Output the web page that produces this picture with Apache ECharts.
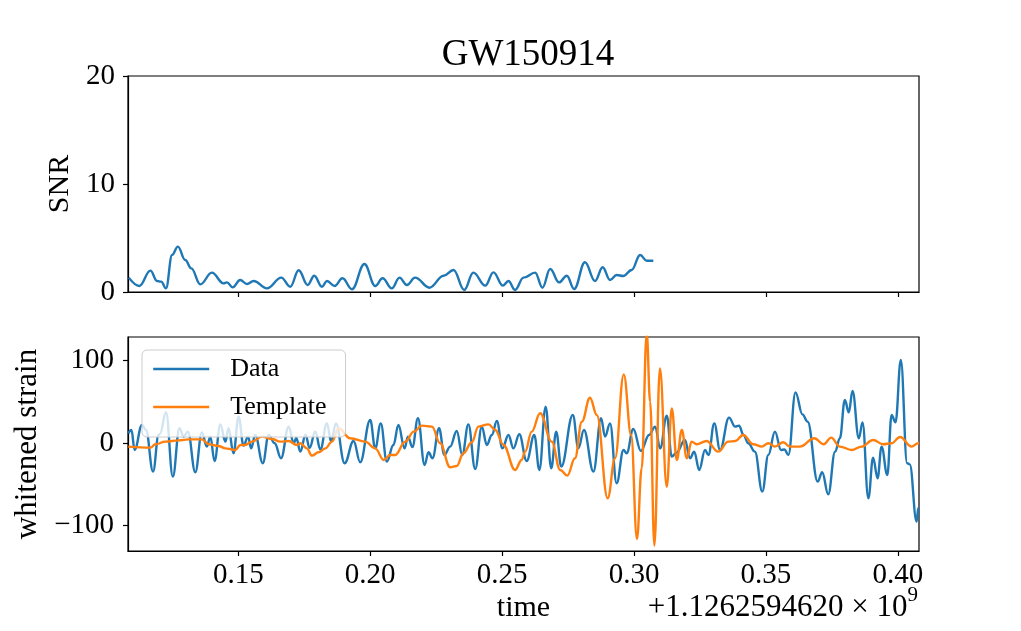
<!DOCTYPE html>
<html>
<head>
<meta charset="utf-8">
<script src="https://cdn.jsdelivr.net/npm/echarts@6/dist/echarts.min.js"></script>
<style>
html,body{margin:0;padding:0;background:#fff;}
#chart{width:1021px;height:631px;}
</style>
</head>
<body>
<div id="chart"></div>
<script>
// time offsets (s) relative to 1.1262594620e9
const snrTime = [0.1085,0.1125,0.1167,0.1192,0.1208,0.1226,0.1249,0.1271,0.1299,0.1322,0.1356,0.1400,0.1444,0.1457,0.1479,0.1507,0.1533,0.1558,0.1609,0.1663,0.1697,0.1729,0.1763,0.1788,0.1817,0.1836,0.1865,0.1895,0.1931,0.1978,0.2019,0.2047,0.2082,0.2111,0.2139,0.2170,0.2225,0.2278,0.2316,0.2356,0.2391,0.2436,0.2467,0.2503,0.2524,0.2549,0.2581,0.2625,0.2653,0.2682,0.2716,0.2745,0.2773,0.2814,0.2852,0.2881,0.2909,0.2934,0.2959,0.2991,0.3023,0.3048,0.3073];
const snrValues = [1.33,0.56,1.98,1.02,0.96,0.34,3.43,4.20,2.96,2.19,0.71,1.79,0.80,0.89,0.43,1.11,0.74,1.02,0.34,1.33,0.49,2.01,0.65,1.51,0.49,1.02,0.56,1.27,0.25,2.59,0.56,1.27,0.34,1.33,0.65,1.33,0.40,1.51,2.04,0.19,1.79,0.59,1.82,0.59,1.02,0.19,1.33,1.79,0.40,2.13,0.89,1.51,0.28,2.75,1.02,2.29,1.11,1.57,1.48,2.04,3.43,2.90,2.90];

const dataTime = [0.1083,0.1095,0.1107,0.1135,0.1150,0.1177,0.1198,0.1203,0.1226,0.1252,0.1277,0.1293,0.1309,0.1337,0.1362,0.1381,0.1394,0.1410,0.1432,0.1451,0.1463,0.1482,0.1501,0.1520,0.1537,0.1549,0.1564,0.1593,0.1615,0.1638,0.1662,0.1691,0.1710,0.1720,0.1735,0.1755,0.1770,0.1792,0.1811,0.1836,0.1852,0.1870,0.1903,0.1937,0.1962,0.2000,0.2019,0.2040,0.2063,0.2088,0.2107,0.2130,0.2143,0.2160,0.2181,0.2206,0.2221,0.2236,0.2261,0.2281,0.2303,0.2328,0.2349,0.2372,0.2398,0.2423,0.2442,0.2461,0.2480,0.2501,0.2524,0.2543,0.2565,0.2593,0.2622,0.2641,0.2665,0.2686,0.2705,0.2724,0.2768,0.2789,0.2810,0.2846,0.2875,0.2890,0.2909,0.2934,0.2960,0.2972,0.2997,0.3026,0.3057,0.3080,0.3099,0.3124,0.3143,0.3160,0.3193,0.3212,0.3228,0.3247,0.3269,0.3282,0.3304,0.3326,0.3360,0.3383,0.3398,0.3415,0.3433,0.3458,0.3486,0.3509,0.3534,0.3557,0.3570,0.3585,0.3612,0.3638,0.3658,0.3696,0.3713,0.3736,0.3762,0.3780,0.3799,0.3814,0.3828,0.3852,0.3866,0.3888,0.3906,0.3923,0.3938,0.3960,0.3976,0.3991,0.4011,0.4035,0.4045,0.4071,0.4077,0.4080];
const dataValues = [11.7,15.8,-8.5,21.8,15.8,-34.7,9.7,11,37.2,-40.8,17.8,7.7,13.7,-35.5,12.9,-4.4,7.7,-21.8,22.6,1.6,17.8,-12.5,31.9,-3.2,7.7,-6.5,9.7,-24.6,9.7,-0.4,-18.6,19.8,-0.4,6,-10.5,10,-6,14,-8,23.8,1.6,23.8,-24.6,2.4,-23.4,27.9,-6.5,23.8,-22.6,-2.4,21.8,-6.5,7.7,-5,29.9,-26.7,-11.3,-18.6,17.8,-14.5,-4.4,14.5,-14.5,22.6,-31.5,19.8,-2.4,9.7,26.7,-6.5,9.7,-6.5,10.5,-21.8,9.7,-32.7,44.0,-30.7,13.7,-28.7,33.9,-6.5,15.8,-34.7,29.9,7.7,23.8,-48.9,-8.5,-12.5,17.0,-9.7,9.7,19.8,-6.5,33.1,-16.6,-12,3.6,-18.6,-10.5,-32.7,-8.5,-14.5,23.8,-8.5,30.7,19.8,21,9.7,-0.4,-10.5,-59.0,-14.5,13.7,-8.5,-8,-14.5,61.4,34.7,25.8,-46.9,-35.5,-62.2,-10.5,5.7,52.1,37.2,63.0,5.7,25.0,-67.1,-17.8,-42.8,-4.4,-38.8,33.9,25.0,100.6,-24.6,-26,-95.4,-79.2,-79];

const templateTime = [0.1083,0.1167,0.1186,0.1223,0.1274,0.1312,0.1362,0.1388,0.1425,0.1451,0.1489,0.1508,0.1526,0.1552,0.1590,0.1628,0.1659,0.1691,0.1722,0.1735,0.1760,0.1779,0.1804,0.1830,0.1855,0.1880,0.1924,0.1981,0.2019,0.2051,0.2076,0.2095,0.2133,0.2165,0.2196,0.2234,0.2265,0.2303,0.2328,0.2353,0.2385,0.2410,0.2448,0.2474,0.2505,0.2549,0.2574,0.2587,0.2612,0.2644,0.2688,0.2720,0.2747,0.2776,0.2802,0.2833,0.2859,0.2900,0.2928,0.2961,0.2989,0.3011,0.3029,0.3048,0.3061,0.3077,0.3098,0.3124,0.3143,0.3162,0.3181,0.3200,0.3218,0.3237,0.3275,0.3319,0.3357,0.3383,0.3414,0.3452,0.3484,0.3509,0.3534,0.3566,0.3591,0.3629,0.3683,0.3719,0.3747,0.3780,0.3825,0.3862,0.3906,0.3944,0.3976,0.4008,0.4052,0.4077,0.4080];
const templateValues = [-4.4,-5.6,-1.6,1.6,3.2,4.4,4.4,-1.6,-3.6,-6.5,-8.5,-2.4,-2.4,1.6,7.7,4.8,1.6,2.4,-2.4,-0.4,-6.5,-15.4,-11.3,-6.5,1.6,17.8,5.7,1.6,-6.5,-20.6,-14.5,-14.5,1.6,13.7,21.0,19.8,-0.4,-29.5,-27.9,-12.5,0.8,19.8,22.6,15.8,-2.4,-32.7,-20.6,-10.5,13.7,36.0,1.6,-32.7,-39.6,-18.6,25.8,54.9,33.9,-67.1,-18.6,83.2,9.7,-116.4,-30.7,133,50,-124.4,90.5,-53.0,42.0,-20.6,15.8,-18.6,1.6,-1.6,2.4,-10.5,1.6,2.4,9.7,-1.6,-4.4,-0.4,-4.4,0.8,-4.4,-4.4,5.7,-1.6,6.5,-4.4,-8.5,-4.4,3.6,-1.6,-0.4,7.3,-4.4,-0.4,-0.4];

const xTicks = [0.15,0.20,0.25,0.30,0.35,0.40];
const snrTicks = [0,10,20];
const strainTicks = [-100,0,100];

const FONT = '"Liberation Serif", "DejaVu Serif", serif';
const zip = (a,b) => a.map((t,i)=>[t,b[i]]);

const chart = echarts.init(document.getElementById('chart'), null, {renderer:'canvas'});
const axisCommon = {
  type:'value',
  axisLine:{show:true, onZero:false, lineStyle:{color:'#000', width:1.2}},
  splitLine:{show:false},
};
chart.setOption({
  animation:false,
  backgroundColor:'#fff',
  title:{text:'GW150914', left:523, top:32, textAlign:'center',
    textStyle:{fontFamily:FONT, fontSize:37, fontWeight:'normal', color:'#000'}},
  grid:[
    {left:128, top:76, width:791, height:216, show:true, borderColor:'#000', borderWidth:1.2, containLabel:false},
    {left:128, top:337, width:791, height:214, show:true, borderColor:'#000', borderWidth:1.2, containLabel:false}
  ],
  legend:{
    data:['Data','Template'], orient:'vertical', left:142, top:350,
    itemWidth:56, itemHeight:14, itemGap:8,
    padding:[4,19,15,10],
    itemStyle:{opacity:0},
    lineStyle:{width:2.4},
    backgroundColor:'rgba(255,255,255,0.8)', borderColor:'#cccccc', borderWidth:1, borderRadius:5,
    textStyle:{fontFamily:FONT, fontSize:26, color:'#000', lineHeight:30, padding:[0,0,0,16]}
  },
  xAxis:[
    Object.assign({}, axisCommon, {gridIndex:0, min:0.1082, max:0.408,
      axisTick:{show:true, inside:false, length:5, customValues:xTicks, lineStyle:{color:'#000', width:1.2}},
      axisLabel:{show:false, customValues:xTicks}}),
    Object.assign({}, axisCommon, {gridIndex:1, min:0.1082, max:0.408,
      name:'time', nameLocation:'middle', nameGap:42,
      nameTextStyle:{fontFamily:FONT, fontSize:30, color:'#000'},
      axisTick:{show:true, inside:false, length:5, customValues:xTicks, lineStyle:{color:'#000', width:1.2}},
      axisLabel:{show:true, customValues:xTicks, margin:10, fontFamily:FONT, fontSize:29, color:'#000',
        formatter:v=>v.toFixed(2)}})
  ],
  yAxis:[
    Object.assign({}, axisCommon, {gridIndex:0, min:0, max:20, interval:10,
      name:'SNR', nameLocation:'middle', nameGap:51, nameRotate:90,
      nameTextStyle:{fontFamily:FONT, fontSize:30, color:'#000'},
      axisTick:{show:true, inside:false, length:5, lineStyle:{color:'#000', width:1.2}},
      axisLabel:{show:true, margin:13, fontFamily:FONT, fontSize:29, color:'#000'}}),
    Object.assign({}, axisCommon, {gridIndex:1, min:-131, max:128.5,
      name:'whitened strain', nameLocation:'middle', nameGap:79, nameRotate:90,
      nameTextStyle:{fontFamily:FONT, fontSize:31, color:'#000'},
      axisTick:{show:true, inside:false, length:5, customValues:strainTicks, lineStyle:{color:'#000', width:1.2}},
      axisLabel:{show:true, customValues:strainTicks, margin:14, fontFamily:FONT, fontSize:29, color:'#000',
        formatter:v=> v<0 ? '\u2212'+Math.abs(v) : String(v)}})
  ],
  graphic:[{
    type:'text', right:103, top:585,
    style:{
      text:'{a|+1.1262594620 × 10}{s|9}',
      rich:{
        a:{fontFamily:FONT, fontSize:31, color:'#000', lineHeight:38, verticalAlign:'bottom'},
        s:{fontFamily:FONT, fontSize:21, color:'#000', lineHeight:38, verticalAlign:'top'}
      }
    }
  }],
  series:[
    {name:'SNR', type:'line', xAxisIndex:0, yAxisIndex:0, data:zip(snrTime, snrValues),
      symbol:'none', smooth:0.4, smoothMonotone:'x', lineStyle:{color:'#1f77b4', width:2.4}, itemStyle:{color:'#1f77b4'}},
    {name:'Data', type:'line', xAxisIndex:1, yAxisIndex:1, data:zip(dataTime, dataValues),
      symbol:'none', smooth:0.4, smoothMonotone:'x', lineStyle:{color:'#1f77b4', width:2.4}, itemStyle:{color:'#1f77b4'}},
    {name:'Template', type:'line', xAxisIndex:1, yAxisIndex:1, data:zip(templateTime, templateValues),
      symbol:'none', smooth:0.4, smoothMonotone:'x', lineStyle:{color:'#ff7f0e', width:2.4}, itemStyle:{color:'#ff7f0e'}}
  ]
});
</script>
</body>
</html>
